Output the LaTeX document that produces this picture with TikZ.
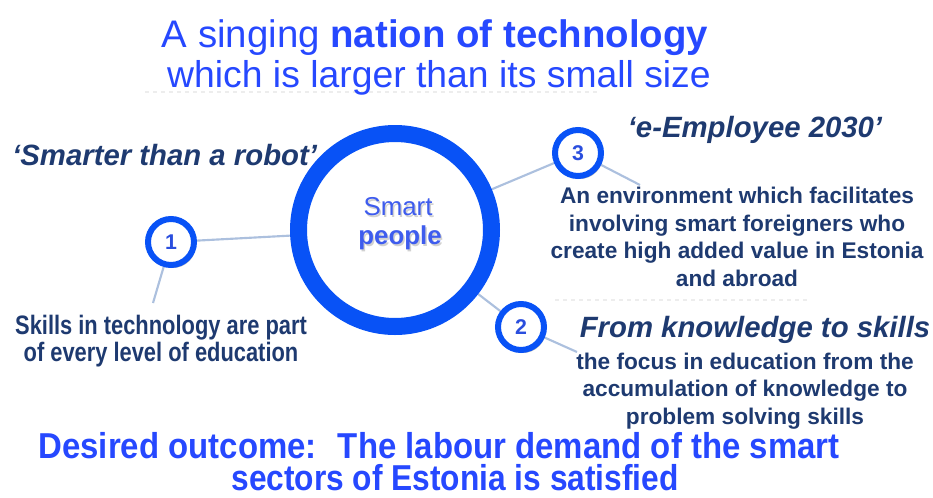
\documentclass[tikz,border=0pt]{standalone}
\usepackage{fontspec}
\setmainfont{Liberation Sans}
\newfontfamily\narrowfont{Liberation Sans}[FakeStretch=0.82]
\newfontfamily\outcomefont{Liberation Sans}[FakeStretch=0.88]
\newfontfamily\outcomewidefont{Liberation Sans}[FakeStretch=0.915]
\usetikzlibrary{shadows,backgrounds}

\definecolor{titleblue}{RGB}{38,72,255}
\definecolor{ringblue}{RGB}{8,82,246}
\definecolor{navy}{RGB}{30,58,112}
\definecolor{numblue}{RGB}{42,78,222}
\definecolor{hubtext}{RGB}{62,92,238}
\definecolor{linkgray}{RGB}{172,192,222}

\tikzset{
  hub/.style={circle, draw=ringblue, line width=12.75pt, fill=white,
    minimum size=144.75pt, inner sep=0pt,
    drop shadow={opacity=0.3, shadow xshift=1.5pt, shadow yshift=-1.5pt}},
  bubble/.style={circle, draw=ringblue, line width=4.5pt, fill=white,
    minimum size=34.5pt, inner sep=0pt, text=numblue,
    font=\bfseries\fontsize{16pt}{16pt}\selectfont,
    drop shadow={opacity=0.55, shadow xshift=1.5pt, shadow yshift=-2.2pt}},
  link/.style={draw=linkgray, line width=1.6pt},
  faint/.style={draw=black!7, line width=0.8pt, dashed},
  titletext/.style={text=titleblue, inner sep=0pt,
    font=\fontsize{28pt}{33pt}\selectfont},
  headtext/.style={text=navy, inner sep=0pt,
    font=\bfseries\itshape\fontsize{22pt}{26pt}\selectfont},
  bodytext/.style={text=navy, inner sep=0pt, align=center,
    font=\bfseries\fontsize{17pt}{20.6pt}\selectfont},
  narrowtext/.style={text=navy, inner sep=0pt, align=center,
    font=\narrowfont\bfseries\fontsize{20pt}{20.3pt}\selectfont},
  outcometext/.style={text=titleblue, inner sep=0pt,
    font=\bfseries\fontsize{27pt}{27pt}\selectfont},
  hubword/.style={inner sep=0pt, font=\fontsize{19.4pt}{20pt}\selectfont}
}

\begin{document}
\begin{tikzpicture}[x=0.75pt, y=-0.75pt]
\useasboundingbox (0,0) rectangle (933,497);

% faint slide edges
\draw[faint] (145,92) -- (600,92);
\draw[faint] (555,300) -- (810,300);

% title
\node[titletext, font=\fontsize{28.8pt}{33pt}\selectfont] (title1) at (435,38) {A singing \textbf{nation of technology}};
\node[titletext] (title2) at (439,78) {which is larger than its small size};

% hub and numbered bubbles
\node[hub] (hub) at (395,230) {};
\node[bubble] (c1) at (171,242) {1};
\node[bubble] (c2) at (521,327) {2};
\node[bubble] (c3) at (578,153) {3};

% free ends of the leader lines
\coordinate (e1) at (153,303);
\coordinate (e2) at (577,352);
\coordinate (e3) at (640,185);

\begin{scope}[on background layer]
  \draw[link] (c1) -- (hub);
  \draw[link] (hub) -- (c3);
  \draw[link] (hub) -- (c2);
  \draw[link] (c1) -- (e1);
  \draw[link] (c2) -- (e2);
  \draw[link] (c3) -- (e3);
\end{scope}

% hub label with soft shadow
\node[hubword, text=black!18] at (399.5,208.5) {Smart};
\node[hubword, text=black!18] at (401.5,239.5) {\bfseries people};
\node[hubword, text=hubtext] (smart) at (398,207) {Smart};
\node[hubword, text=hubtext] (people) at (400,238) {\bfseries people};

% item 1
\node[headtext, anchor=west] (h1) at (12,155) {‘Smarter than a robot’};
\node[narrowtext] (t1) at (161,341) {Skills in technology are part\\of every level of education};

% item 3
\node[headtext] (h3) at (755,130) {‘e-Employee 2030’};
\node[bodytext] (t3) at (737,237) {An environment which facilitates\\involving smart foreigners who\\create high added value in Estonia\\and abroad};

% item 2
\node[headtext] (h2) at (755,330) {From knowledge to skills};
\begin{scope}
  \clip (0,0) rectangle (933,429);
  \node[bodytext] (t2) at (745,391) {the focus in education from the\\accumulation of knowledge to\\problem solving skills};
\end{scope}

% outcome
\node[outcometext] (outcome1) at (439,446) {\outcomewidefont\bfseries Desired outcome:\hspace{0.25em} The labour demand of the smart};
\node[outcometext] (outcome2) at (455,478) {\outcomefont\bfseries sectors of Estonia is satisfied};
\end{tikzpicture}
\end{document}
